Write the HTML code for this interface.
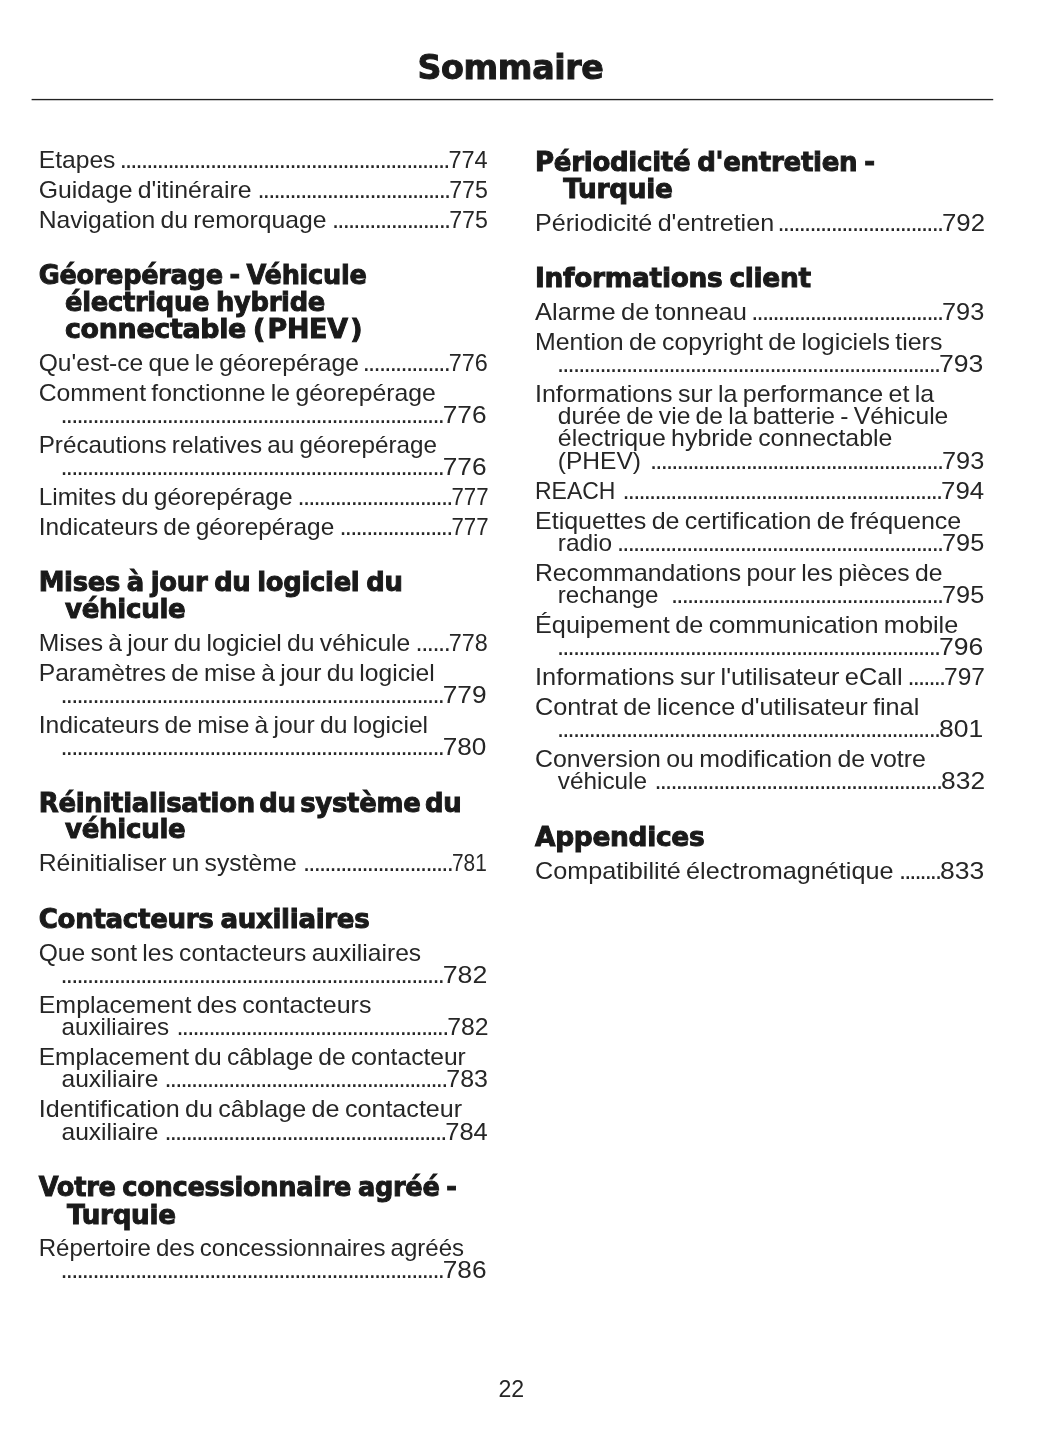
<!DOCTYPE html>
<html lang="fr"><head><meta charset="utf-8"><title>Sommaire</title>
<style>
html,body{margin:0;padding:0;background:#fff;}
#page{position:relative;width:1055px;height:1448px;overflow:hidden;background:#fff;}
.t{position:absolute;left:0;top:0;white-space:pre;line-height:1;transform-origin:0 0;margin:0;padding:0;}
.body{font-family:"Liberation Sans", sans-serif;font-size:23.4px;font-weight:400;color:#262626;word-spacing:-1.5px;}
.num{font-family:"Liberation Sans", sans-serif;font-size:23.7px;font-weight:400;color:#262626;}
.dots{font-family:"Liberation Sans", sans-serif;font-size:25.5px;font-weight:400;color:#262626;}
.head{font-family:"DejaVu Sans", "Liberation Sans", sans-serif;font-size:26.9px;font-weight:700;color:#1a1a1a;-webkit-text-stroke:1px #1a1a1a;letter-spacing:-0.3px;word-spacing:-2px;}
.title{font-family:"DejaVu Sans", "Liberation Sans", sans-serif;font-size:34.6px;font-weight:700;color:#1a1a1a;-webkit-text-stroke:1px #1a1a1a;letter-spacing:-0.4px;}
.pageno{font-family:"Liberation Sans", sans-serif;font-size:24px;font-weight:400;color:#262626;}
</style></head>
<body><div id="page">
<svg width="1055" height="120" viewBox="0 0 1055 120" style="position:absolute;left:0;top:0"><rect x="31.6" y="98.9" width="961.6" height="1.35" fill="#222"/></svg>
<div class="t body" style="transform:translate(38.70px,149.00px) scaleX(1.0539)">Etapes</div>
<div class="t num" style="transform:translate(448.44px,149.00px) scaleX(0.9934)">774</div>
<div class="t dots" style="transform:translate(119.70px,147.00px);letter-spacing:-1.780px">..............................................................</div>
<div class="t body" style="transform:translate(38.70px,179.00px) scaleX(1.0606)">Guidage d'itinéraire</div>
<div class="t num" style="transform:translate(449.16px,179.00px) scaleX(0.9787)">775</div>
<div class="t dots" style="transform:translate(257.50px,177.00px);letter-spacing:-1.756px">....................................</div>
<div class="t body" style="transform:translate(38.70px,209.00px) scaleX(1.0552)">Navigation du remorquage</div>
<div class="t num" style="transform:translate(449.16px,209.00px) scaleX(0.9787)">775</div>
<div class="t dots" style="transform:translate(332.00px,207.00px);letter-spacing:-1.752px">......................</div>
<div class="t body" style="transform:translate(38.70px,352.00px) scaleX(1.0524)">Qu'est-ce que le géorepérage</div>
<div class="t num" style="transform:translate(448.85px,352.00px) scaleX(0.9871)">776</div>
<div class="t dots" style="transform:translate(362.70px,350.00px);letter-spacing:-1.685px">................</div>
<div class="t body" style="transform:translate(38.70px,382.00px) scaleX(1.0585)">Comment fonctionne le géorepérage</div>
<div class="t num" style="transform:translate(442.71px,404.00px) scaleX(1.1072)">776</div>
<div class="t dots" style="transform:translate(60.50px,402.00px);letter-spacing:-1.772px">........................................................................</div>
<div class="t body" style="transform:translate(38.70px,434.00px) scaleX(1.0362)">Précautions relatives au géorepérage</div>
<div class="t num" style="transform:translate(442.71px,456.00px) scaleX(1.1072)">776</div>
<div class="t dots" style="transform:translate(60.50px,454.00px);letter-spacing:-1.772px">........................................................................</div>
<div class="t body" style="transform:translate(38.70px,486.00px) scaleX(1.0455)">Limites du géorepérage</div>
<div class="t num" style="transform:translate(451.41px,486.00px) scaleX(0.9385)">777</div>
<div class="t dots" style="transform:translate(297.60px,484.00px);letter-spacing:-1.778px">.............................</div>
<div class="t body" style="transform:translate(38.70px,516.00px) scaleX(1.0440)">Indicateurs de géorepérage</div>
<div class="t num" style="transform:translate(451.41px,516.00px) scaleX(0.9385)">777</div>
<div class="t dots" style="transform:translate(339.50px,514.00px);letter-spacing:-1.750px">.....................</div>
<div class="t body" style="transform:translate(38.70px,632.00px) scaleX(1.0543)">Mises à jour du logiciel du véhicule</div>
<div class="t num" style="transform:translate(448.85px,632.00px) scaleX(0.9872)">778</div>
<div class="t dots" style="transform:translate(415.50px,630.00px);letter-spacing:-1.445px">......</div>
<div class="t body" style="transform:translate(38.70px,662.00px) scaleX(1.0537)">Paramètres de mise à jour du logiciel</div>
<div class="t num" style="transform:translate(442.71px,684.00px) scaleX(1.1082)">779</div>
<div class="t dots" style="transform:translate(60.50px,682.00px);letter-spacing:-1.772px">........................................................................</div>
<div class="t body" style="transform:translate(38.70px,714.00px) scaleX(1.0542)">Indicateurs de mise à jour du logiciel</div>
<div class="t num" style="transform:translate(442.71px,736.00px) scaleX(1.1056)">780</div>
<div class="t dots" style="transform:translate(60.50px,734.00px);letter-spacing:-1.772px">........................................................................</div>
<div class="t body" style="transform:translate(38.70px,852.00px) scaleX(1.0572)">Réinitialiser un système</div>
<div class="t num" style="transform:translate(451.97px,852.00px) scaleX(0.8812)">781</div>
<div class="t dots" style="transform:translate(303.00px,850.00px);letter-spacing:-1.763px">............................</div>
<div class="t body" style="transform:translate(38.70px,942.00px) scaleX(1.0529)">Que sont les contacteurs auxiliaires</div>
<div class="t num" style="transform:translate(442.69px,964.00px) scaleX(1.1289)">782</div>
<div class="t dots" style="transform:translate(60.50px,962.00px);letter-spacing:-1.772px">........................................................................</div>
<div class="t body" style="transform:translate(38.70px,994.00px) scaleX(1.0675)">Emplacement des contacteurs</div>
<div class="t body" style="transform:translate(61.50px,1016.00px) scaleX(1.0347)">auxiliaires</div>
<div class="t num" style="transform:translate(447.28px,1016.00px) scaleX(1.0473)">782</div>
<div class="t dots" style="transform:translate(176.50px,1014.00px);letter-spacing:-1.771px">...................................................</div>
<div class="t body" style="transform:translate(38.70px,1046.00px) scaleX(1.0515)">Emplacement du câblage de contacteur</div>
<div class="t body" style="transform:translate(61.50px,1068.00px) scaleX(1.0503)">auxiliaire</div>
<div class="t num" style="transform:translate(446.27px,1068.00px) scaleX(1.0542)">783</div>
<div class="t dots" style="transform:translate(164.50px,1066.00px);letter-spacing:-1.764px">.....................................................</div>
<div class="t body" style="transform:translate(38.70px,1098.00px) scaleX(1.0733)">Identification du câblage de contacteur</div>
<div class="t body" style="transform:translate(61.50px,1121.00px) scaleX(1.0503)">auxiliaire</div>
<div class="t num" style="transform:translate(445.25px,1121.00px) scaleX(1.0757)">784</div>
<div class="t dots" style="transform:translate(164.50px,1119.00px);letter-spacing:-1.783px">.....................................................</div>
<div class="t body" style="transform:translate(38.70px,1237.00px) scaleX(1.0270)">Répertoire des concessionnaires agréés</div>
<div class="t num" style="transform:translate(442.71px,1259.00px) scaleX(1.1072)">786</div>
<div class="t dots" style="transform:translate(60.50px,1257.00px);letter-spacing:-1.772px">........................................................................</div>
<div class="t body" style="transform:translate(535.00px,212.00px) scaleX(1.0737)">Périodicité d'entretien</div>
<div class="t num" style="transform:translate(942.03px,212.00px) scaleX(1.0881)">792</div>
<div class="t dots" style="transform:translate(777.50px,210.00px);letter-spacing:-1.768px">...............................</div>
<div class="t body" style="transform:translate(535.00px,301.00px) scaleX(1.0885)">Alarme de tonneau</div>
<div class="t num" style="transform:translate(942.06px,301.00px) scaleX(1.0676)">793</div>
<div class="t dots" style="transform:translate(751.30px,299.00px);letter-spacing:-1.779px">....................................</div>
<div class="t body" style="transform:translate(535.00px,331.00px) scaleX(1.0649)">Mention de copyright de logiciels tiers</div>
<div class="t num" style="transform:translate(938.99px,353.00px) scaleX(1.1209)">793</div>
<div class="t dots" style="transform:translate(557.00px,351.00px);letter-spacing:-1.775px">........................................................................</div>
<div class="t body" style="transform:translate(535.00px,383.00px) scaleX(1.0691)">Informations sur la performance et la</div>
<div class="t body" style="transform:translate(557.80px,405.00px) scaleX(1.0541)">durée de vie de la batterie - Véhicule</div>
<div class="t body" style="transform:translate(557.80px,427.00px) scaleX(1.0648)">électrique hybride connectable</div>
<div class="t body" style="transform:translate(557.80px,450.00px) scaleX(1.0495)">(PHEV)</div>
<div class="t num" style="transform:translate(942.06px,450.00px) scaleX(1.0676)">793</div>
<div class="t dots" style="transform:translate(650.00px,448.00px);letter-spacing:-1.770px">.......................................................</div>
<div class="t body" style="transform:translate(535.00px,480.00px) scaleX(0.9822)">REACH</div>
<div class="t num" style="transform:translate(941.03px,480.00px) scaleX(1.0890)">794</div>
<div class="t dots" style="transform:translate(622.50px,478.00px);letter-spacing:-1.771px">............................................................</div>
<div class="t body" style="transform:translate(535.00px,510.00px) scaleX(1.0699)">Etiquettes de certification de fréquence</div>
<div class="t body" style="transform:translate(557.80px,532.00px) scaleX(1.0447)">radio</div>
<div class="t num" style="transform:translate(942.06px,532.00px) scaleX(1.0667)">795</div>
<div class="t dots" style="transform:translate(617.00px,530.00px);letter-spacing:-1.752px">.............................................................</div>
<div class="t body" style="transform:translate(535.00px,562.00px) scaleX(1.0575)">Recommandations pour les pièces de</div>
<div class="t body" style="transform:translate(557.80px,584.00px) scaleX(1.0311)">rechange</div>
<div class="t num" style="transform:translate(942.06px,584.00px) scaleX(1.0667)">795</div>
<div class="t dots" style="transform:translate(671.00px,582.00px);letter-spacing:-1.765px">...................................................</div>
<div class="t body" style="transform:translate(535.00px,614.00px) scaleX(1.0795)">Équipement de communication mobile</div>
<div class="t num" style="transform:translate(938.99px,636.00px) scaleX(1.1205)">796</div>
<div class="t dots" style="transform:translate(557.00px,634.00px);letter-spacing:-1.775px">........................................................................</div>
<div class="t body" style="transform:translate(535.00px,666.00px) scaleX(1.0836)">Informations sur l'utilisateur eCall</div>
<div class="t num" style="transform:translate(944.10px,666.00px) scaleX(1.0337)">797</div>
<div class="t dots" style="transform:translate(907.50px,664.00px);letter-spacing:-1.835px">.......</div>
<div class="t body" style="transform:translate(535.00px,696.00px) scaleX(1.0793)">Contrat de licence d'utilisateur final</div>
<div class="t num" style="transform:translate(939.05px,718.00px) scaleX(1.1199)">801</div>
<div class="t dots" style="transform:translate(557.00px,716.00px);letter-spacing:-1.775px">........................................................................</div>
<div class="t body" style="transform:translate(535.00px,748.00px) scaleX(1.0644)">Conversion ou modification de votre</div>
<div class="t body" style="transform:translate(557.80px,770.00px) scaleX(1.0401)">véhicule</div>
<div class="t num" style="transform:translate(941.06px,770.00px) scaleX(1.1137)">832</div>
<div class="t dots" style="transform:translate(654.50px,768.00px);letter-spacing:-1.774px">......................................................</div>
<div class="t body" style="transform:translate(535.00px,860.00px) scaleX(1.0775)">Compatibilité électromagnétique</div>
<div class="t num" style="transform:translate(940.06px,860.00px) scaleX(1.1194)">833</div>
<div class="t dots" style="transform:translate(899.00px,858.00px);letter-spacing:-1.942px">........</div>
<div class="t head" style="transform:translate(38.70px,262.00px) scaleX(0.9516)">Géorepérage - Véhicule</div>
<div class="t head" style="transform:translate(65.00px,289.00px) scaleX(0.9578)">électrique hybride</div>
<div class="t head" style="transform:translate(65.00px,316.00px) scaleX(0.9985)">connectable <span style="margin-right:2.5px">(</span>PHEV<span style="margin-left:2.5px">)</span></div>
<div class="t head" style="transform:translate(38.70px,569.00px) scaleX(0.9606)">Mises à jour du logiciel du</div>
<div class="t head" style="transform:translate(65.00px,596.00px) scaleX(0.9691)">véhicule</div>
<div class="t head" style="word-spacing:-4.5px;transform:translate(38.70px,790.00px) scaleX(0.9643)">Réinitialisation du système du</div>
<div class="t head" style="transform:translate(65.00px,816.00px) scaleX(0.9691)">véhicule</div>
<div class="t head" style="transform:translate(38.70px,906.00px) scaleX(0.9688)">Contacteurs auxiliaires</div>
<div class="t head" style="transform:translate(38.70px,1174.00px) scaleX(0.9531)">Votre concessionnaire agréé -</div>
<div class="t head" style="transform:translate(67.00px,1202.00px) scaleX(0.9736)">Turquie</div>
<div class="t head" style="transform:translate(535.00px,149.00px) scaleX(0.9688)">Périodicité d'entretien -</div>
<div class="t head" style="transform:translate(563.30px,176.00px) scaleX(0.9799)">Turquie</div>
<div class="t head" style="transform:translate(535.00px,265.00px) scaleX(0.9824)">Informations client</div>
<div class="t head" style="transform:translate(535.00px,824.00px) scaleX(0.9830)">Appendices</div>
<div class="t title" style="transform:translate(417.52px,50.00px) scaleX(0.9623)">Sommaire</div>
<div class="t pageno" style="transform:translate(498.48px,1377.00px) scaleX(0.9629)">22</div>
</div></body></html>
